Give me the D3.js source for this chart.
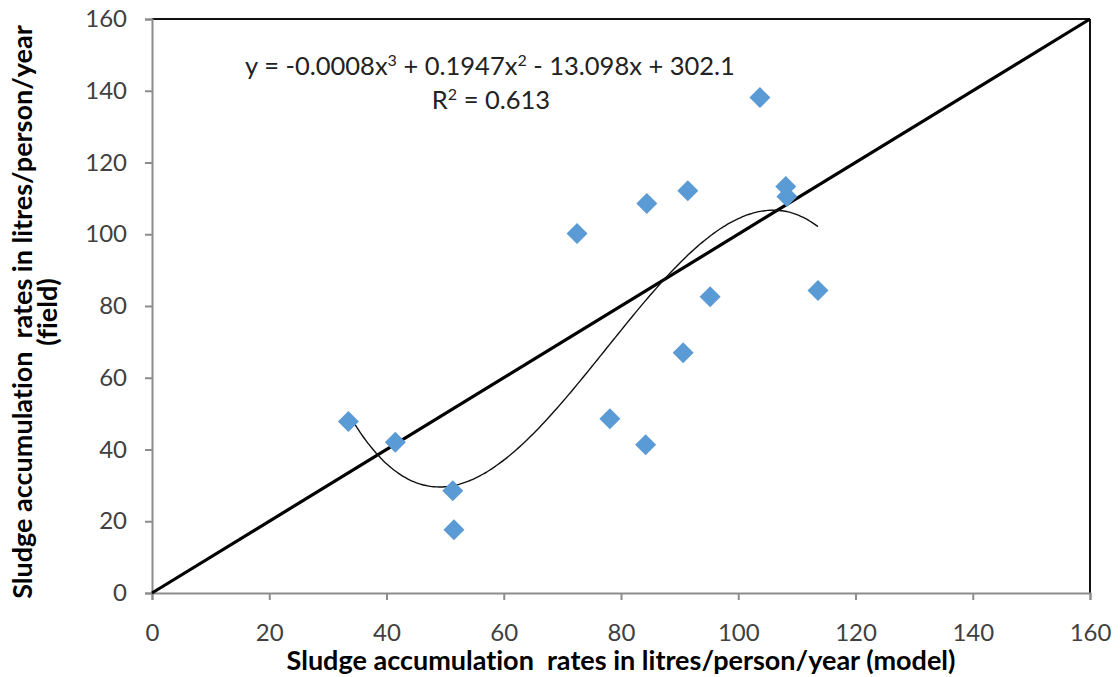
<!DOCTYPE html>
<html>
<head>
<meta charset="utf-8">
<script src="https://cdn.jsdelivr.net/npm/d3@7"></script>
<style>
body{margin:0;background:#fff;}
svg{display:block;}
text{font-variant-ligatures:none;white-space:pre;}
</style>
</head>
<body>
<div id="viz"></div>
<script>
// model rates (x) vs field rates (y), litres/person/year
var modelRates=[33.5,41.5,51.3,51.5,72.5,78.1,84.4,84.2,91.4,90.6,95.2,103.7,108.1,108.3,113.6];
var fieldRates=[47.8,42.0,28.5,17.6,100.2,48.6,108.6,41.3,112.1,67.0,82.6,138.1,113.3,110.5,84.3];
var oneToOneX=[0,160];
var oneToOneY=[0,160];
var tickValues=[0,20,40,60,80,100,120,140,160];
var xTitle='Sludge accumulation  rates in litres/person/year (model)';
var yTitle=['Sludge accumulation  rates in litres/person/year','(field)'];
var eqParts=[['y = -0.0008x',''],['3','sup'],[' + 0.1947x',''],['2','sup'],[' - 13.098x + 302.1','']];
var r2Parts=[['R',''],['2','sup'],[' = 0.613','']];

//----------------------------------------------------------------
var width=1120,
    height=677,
    plotLeft=152,
    plotRight=1090,
    plotTop=19,
    plotBottom=593;

var xScale=d3.scaleLinear().domain([0,160]).range([plotLeft,plotRight]);
var yScale=d3.scaleLinear().domain([0,160]).range([plotBottom,plotTop]);

var svg=d3.select('#viz').append('svg')
    .attr('width',width)
    .attr('height',height)
    .style('font-family','Lato, "Open Sans", sans-serif');

svg.append('rect').attr('width',width).attr('height',height).attr('fill','#fff');

// frame top/right
svg.append('line')
    .attr('x1',xScale(0)).attr('x2',xScale(160))
    .attr('y1',yScale(160)).attr('y2',yScale(160))
    .attr('stroke','#111').attr('stroke-width',2);
svg.append('line')
    .attr('x1',xScale(160)).attr('x2',xScale(160))
    .attr('y1',yScale(160)).attr('y2',yScale(0))
    .attr('stroke','#111').attr('stroke-width',2);

// axes
var xAxis=svg.append('g')
    .attr('transform','translate(0,'+plotBottom+')')
    .call(d3.axisBottom(xScale).tickValues(tickValues).tickSizeOuter(0).tickSize(7).tickPadding(24));
var yAxis=svg.append('g')
    .attr('transform','translate('+plotLeft+',0)')
    .call(d3.axisLeft(yScale).tickValues(tickValues).tickSizeOuter(0).tickSize(7).tickPadding(18));
[xAxis,yAxis].forEach(function(a){
    a.select('.domain').attr('stroke','#8c8c8c').attr('stroke-width',2);
    a.selectAll('.tick line').attr('stroke','#8c8c8c').attr('stroke-width',2);
    a.selectAll('.tick text')
        .attr('fill','#404040')
        .style('font-size','24px')
        .style('font-family','Lato, "Open Sans", sans-serif');
});

// 1:1 line
var line=d3.line()
    .x(function(d){return xScale(d[0]);})
    .y(function(d){return yScale(d[1]);});
svg.append('path')
    .datum(d3.zip(oneToOneX,oneToOneY))
    .attr('d',line)
    .attr('fill','none')
    .attr('stroke','#000')
    .attr('stroke-width',3.2);

// cubic least squares trendline (same as the spreadsheet fit)
function fitCubic(xs,ys){
    var n=4,A=[],i,j,k;
    for(i=0;i<n;i++){
        A.push([]);
        for(j=0;j<n;j++){
            A[i].push(d3.sum(xs,function(x){return Math.pow(x,i+j);}));
        }
        A[i].push(d3.sum(xs,function(x,m){return ys[m]*Math.pow(x,i);}));
    }
    for(i=0;i<n;i++){
        var p=i;
        for(k=i+1;k<n;k++) if(Math.abs(A[k][i])>Math.abs(A[p][i])) p=k;
        var t=A[i];A[i]=A[p];A[p]=t;
        for(k=i+1;k<n;k++){
            var f=A[k][i]/A[i][i];
            for(j=i;j<=n;j++) A[k][j]-=f*A[i][j];
        }
    }
    var c=[0,0,0,0];
    for(i=n-1;i>=0;i--){
        var s=A[i][n];
        for(j=i+1;j<n;j++) s-=A[i][j]*c[j];
        c[i]=s/A[i][i];
    }
    return c;
}
var coef=fitCubic(modelRates,fieldRates);
var trendX=d3.range(d3.min(modelRates),d3.max(modelRates),0.5).concat([d3.max(modelRates)]);
var trend=trendX.map(function(x){
    return [x,coef[0]+coef[1]*x+coef[2]*x*x+coef[3]*x*x*x];
});
var trendLine=d3.line()
    .x(function(d){return xScale(d[0]);})
    .y(function(d){return yScale(d[1]);})
    .curve(d3.curveMonotoneX);
svg.append('path')
    .datum(trend)
    .attr('d',trendLine)
    .attr('fill','none')
    .attr('stroke','#111')
    .attr('stroke-width',1.4);

// points
var r=10.5;
svg.selectAll('path.pt').data(d3.zip(modelRates,fieldRates))
    .enter().append('path')
    .attr('class','pt')
    .attr('d','M0,'+(-r)+'L'+r+',0L0,'+r+'L'+(-r)+',0Z')
    .attr('transform',function(d){
        return 'translate('+xScale(d[0])+','+yScale(d[1])+')';
    })
    .attr('fill','#5b9bd5');

// equation label
function richText(parts,x,y){
    var t=svg.append('text')
        .attr('x',x).attr('y',y)
        .attr('text-anchor','middle')
        .attr('fill','#222')
        .style('font-size','25.5px');
    var prevSup=false;
    parts.forEach(function(p){
        var s=t.append('tspan').text(p[0]);
        if(p[1]=='sup'){
            s.attr('dy',-9).style('font-size','16px');
            prevSup=true;
        }else if(prevSup){
            s.attr('dy',9);
            prevSup=false;
        }
    });
    return t;
}
richText(eqParts,490,75);
richText(r2Parts,491,109);

// titles
svg.append('text')
    .attr('x',(plotLeft+plotRight)/2)
    .attr('y',670)
    .attr('text-anchor','middle')
    .style('font-size','27px')
    .style('font-weight','bold')
    .text(xTitle);
svg.selectAll('text.ytitle').data(yTitle)
    .enter().append('text')
    .attr('class','ytitle')
    .attr('transform',function(d,i){
        return 'translate('+(32+i*25)+',312) rotate(-90)';
    })
    .attr('text-anchor','middle')
    .style('font-size','27px')
    .style('font-weight','bold')
    .text(function(d){return d;});
</script>
</body>
</html>
